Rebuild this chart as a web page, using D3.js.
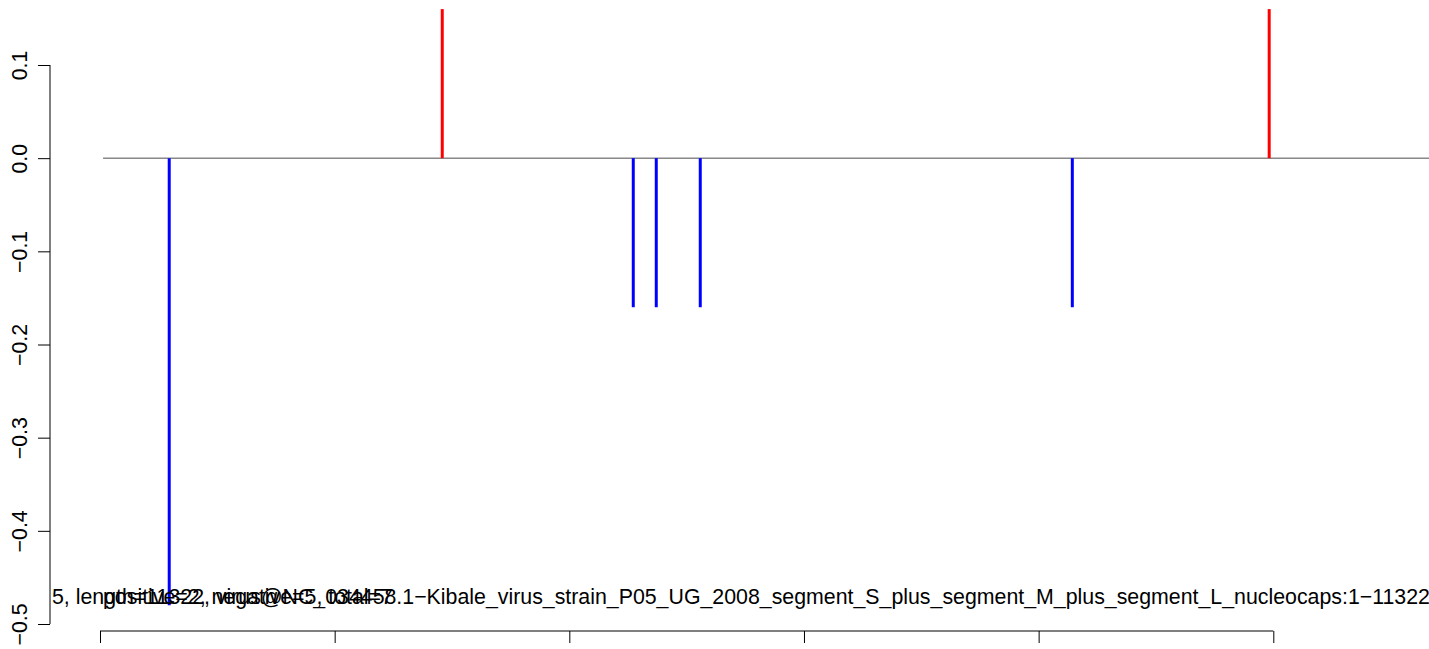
<!DOCTYPE html>
<html><head><meta charset="utf-8">
<script src="https://cdn.jsdelivr.net/npm/d3@7"></script>
<style>body{margin:0;background:#fff}svg{display:block}text{font-family:"Liberation Sans",Arial,sans-serif}</style>
</head><body>
<svg id="c" width="1429" height="649"></svg>
<script>
// data
const positions = [590, 2917, 4545, 4741, 5116, 8287, 9965];
const values    = [-0.48, 0.16, -0.16, -0.16, -0.16, -0.16, 0.16];
const yTicks = [0.1, 0.0, -0.1, -0.2, -0.3, -0.4, -0.5];
const xTicks = [0, 2000, 4000, 6000, 8000, 10000];
const genomeLength = 11322;
const zeroLineStart = 26;
const titleText = "5, length=11322, virus@NC_034458.1\u2212Kibale_virus_strain_P05_UG_2008_segment_S_plus_segment_M_plus_segment_L_nucleocaps:1\u221211322";
const countText = "positive=2, negative=5, total=7";

const FS = 21.33;
const svg = d3.select("#c");
const x = d3.scaleLinear().domain([0, 10000]).range([100, 1273.3]);
const y = d3.scaleLinear().domain([0.1, -0.5]).range([65, 624]);

// zero line
svg.append("line").attr("x1", x(zeroLineStart)).attr("x2", x(genomeLength)+2)
  .attr("y1", y(0)).attr("y2", y(0)).attr("stroke", "#4d4d4d").attr("stroke-width", 1);

// bars
svg.selectAll("line.bar").data(positions).enter().append("line").attr("class","bar")
  .attr("x1", d => x(d)).attr("x2", d => x(d))
  .attr("y1", y(0)).attr("y2", (d,i) => y(values[i]))
  .attr("stroke", (d,i) => values[i] > 0 ? "#ff0000" : "#0000ff")
  .attr("stroke-width", 3);

// y axis
const ya = svg.append("g").attr("transform", "translate(50,0)")
  .call(d3.axisLeft(y).tickValues(yTicks).tickSize(12).tickFormat(d3.format(".1f")));
ya.attr("font-family", null).attr("font-size", null);
ya.select(".domain").attr("stroke","#000").attr("d", `M0,${y(0.1)}V${y(-0.5)}`);
ya.selectAll(".tick line").attr("stroke","#000");
ya.selectAll(".tick text").attr("font-size", FS).attr("fill","#000")
  .attr("text-anchor","middle").attr("dy", 0).attr("x", 0).attr("y", 0)
  .attr("transform", "translate(-23,0) rotate(-90)")
  .text(d => d3.format(".1f")(d).replace("-", "\u2212"));

// x axis
const xa = svg.append("g").attr("transform", "translate(0,631)")
  .call(d3.axisBottom(x).tickValues(xTicks).tickSize(12).tickFormat(""));
xa.select(".domain").attr("stroke","#000").attr("d", `M${x(0)},0H${x(10000)}`);
xa.selectAll(".tick line").attr("stroke","#000");

// texts
svg.append("clipPath").attr("id","cl").append("rect")
  .attr("x", 51).attr("y", 0).attr("width", 1429).attr("height", 649);
const tg = svg.append("g").attr("clip-path","url(#cl)");
tg.append("text").attr("x", 52).attr("y", 604).attr("font-size", FS).attr("fill","#000").text(titleText);
tg.append("text").attr("x", 103).attr("y", 604).attr("font-size", FS).attr("fill","#000").text(countText);
</script>
</body></html>
